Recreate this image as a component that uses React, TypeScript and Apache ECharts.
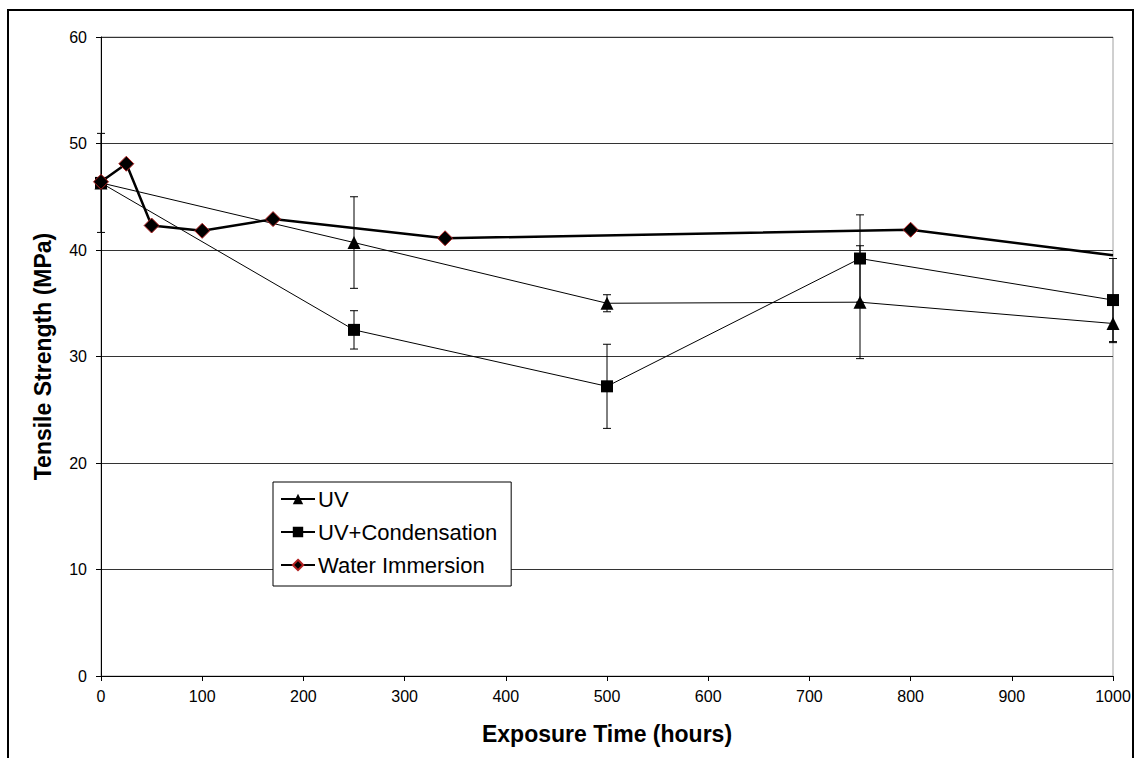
import React, { useEffect, useRef } from "react";
import * as echarts from "echarts";

const uvHours = [0, 250, 500, 750, 1000];
const uvValues = [46.3, 40.7, 35.0, 35.1, 33.1];
const uvErr = [4.65, 4.3, 0.8, 5.3, 1.8];

const condHours = [0, 250, 500, 750, 1000];
const condValues = [46.3, 32.5, 27.2, 39.2, 35.3];
const condErr = [0, 1.8, 3.95, 4.1, 3.9];

const waterHours = [0, 25, 50, 100, 170, 340, 800, 1000];
const waterValues = [46.4, 48.1, 42.3, 41.8, 42.9, 41.1, 41.9, 39.5];

const xTicks = { min: 0, max: 1000, interval: 100 };
const yTicks = { min: 0, max: 60, interval: 10 };

const FONT = "Arial, 'Liberation Sans', sans-serif";

function errorData(hours: number[], vals: number[], errs: number[]) {
  const out: number[][] = [];
  hours.forEach((h, i) => {
    if (errs[i] > 0) out.push([h, vals[i] - errs[i], vals[i] + errs[i]]);
  });
  return out;
}

function errorSeries(name: string, data: number[][]) {
  return {
    type: "custom",
    name,
    data,
    encode: { x: 0, y: [1, 2] },
    z: 3,
    renderItem: (params: any, api: any) => {
      const x = api.value(0);
      const lo = api.coord([x, api.value(1)]);
      const hi = api.coord([x, api.value(2)]);
      const w = 4;
      const st = { stroke: "#000", lineWidth: 1 };
      return {
        type: "group",
        children: [
          { type: "line", shape: { x1: lo[0], y1: lo[1], x2: hi[0], y2: hi[1] }, style: st },
          { type: "line", shape: { x1: lo[0] - w, y1: lo[1], x2: lo[0] + w, y2: lo[1] }, style: st },
          { type: "line", shape: { x1: hi[0] - w, y1: hi[1], x2: hi[0] + w, y2: hi[1] }, style: st },
        ],
      };
    },
  };
}

export default function App() {
  const ref = useRef<HTMLDivElement>(null);
  useEffect(() => {
    if (!ref.current) return;
    const chart = echarts.init(ref.current, null, { renderer: "svg" });
    const waterData = waterHours.map((h, i) => {
      const d: any = { value: [h, waterValues[i]] };
      if (i === waterHours.length - 1) d.symbol = "none";
      return d;
    });
    chart.setOption({
      animation: false,
      backgroundColor: "#fff",
      grid: {
        left: 101,
        top: 37,
        right: 23,
        bottom: 82,
        show: true,
        borderColor: "#a0a0a0",
        borderWidth: 1,
      },
      graphic: [
        {
          type: "rect",
          shape: { x: 8, y: 10, width: 1125, height: 800 },
          style: { fill: "none", stroke: "#000", lineWidth: 2 },
          z: 100,
        },
      ],
      xAxis: {
        type: "value",
        min: xTicks.min,
        max: xTicks.max,
        interval: xTicks.interval,
        name: "Exposure Time (hours)",
        nameLocation: "middle",
        nameGap: 46,
        nameTextStyle: { fontFamily: FONT, fontSize: 23, fontWeight: "bold", color: "#000" },
        axisLine: { lineStyle: { color: "#000", width: 1 } },
        axisTick: { show: true, length: 5, lineStyle: { color: "#000" } },
        axisLabel: {
          fontFamily: FONT,
          fontSize: 16,
          color: "#000",
          margin: 12,
          formatter: (v: number) => String(v),
        },
        splitLine: { show: false },
      },
      yAxis: {
        type: "value",
        min: yTicks.min,
        max: yTicks.max,
        interval: yTicks.interval,
        name: "Tensile Strength (MPa)",
        nameLocation: "middle",
        nameGap: 47,
        nameTextStyle: { fontFamily: FONT, fontSize: 23, fontWeight: "bold", color: "#000" },
        axisLine: { show: true, lineStyle: { color: "#000", width: 1 } },
        axisTick: { show: true, length: 5, lineStyle: { color: "#000" } },
        axisLabel: { fontFamily: FONT, fontSize: 16, color: "#000", margin: 14 },
        splitLine: { show: true, lineStyle: { color: "#333", width: 1 } },
      },
      legend: {
        orient: "vertical",
        left: 273,
        top: 482,
        data: ["UV", "UV+Condensation", "Water Immersion"],
        backgroundColor: "#fff",
        borderColor: "#000",
        borderWidth: 1,
        borderRadius: 0,
        padding: [6, 14, 10, 7],
        itemWidth: 34,
        itemHeight: 13,
        itemGap: 11,
        textStyle: { fontFamily: FONT, fontSize: 22, color: "#000", padding: [0, 0, 0, -2] },
      },
      series: [
        errorSeries("uvErr", errorData(uvHours, uvValues, uvErr)),
        errorSeries("condErr", errorData(condHours, condValues, condErr)),
        {
          type: "line",
          name: "UV",
          data: uvHours.map((h, i) => [h, uvValues[i]]),
          symbol: "triangle",
          symbolSize: 13,
          lineStyle: { color: "#000", width: 1 },
          itemStyle: { color: "#000" },
          z: 4,
        },
        {
          type: "line",
          name: "UV+Condensation",
          data: condHours.map((h, i) => [h, condValues[i]]),
          symbol: "rect",
          symbolSize: 12,
          lineStyle: { color: "#000", width: 1 },
          itemStyle: { color: "#000" },
          z: 4,
        },
        {
          type: "line",
          name: "Water Immersion",
          data: waterData,
          symbol: "diamond",
          symbolSize: 15,
          lineStyle: { color: "#000", width: 2.5 },
          itemStyle: { color: "#000", borderColor: "#b22222", borderWidth: 1 },
          z: 5,
        },
      ],
    });
    return () => chart.dispose();
  }, []);
  return (
    <div
      ref={ref}
      style={{ position: "fixed", left: 0, top: 0, width: 1136, height: 758 }}
    />
  );
}
